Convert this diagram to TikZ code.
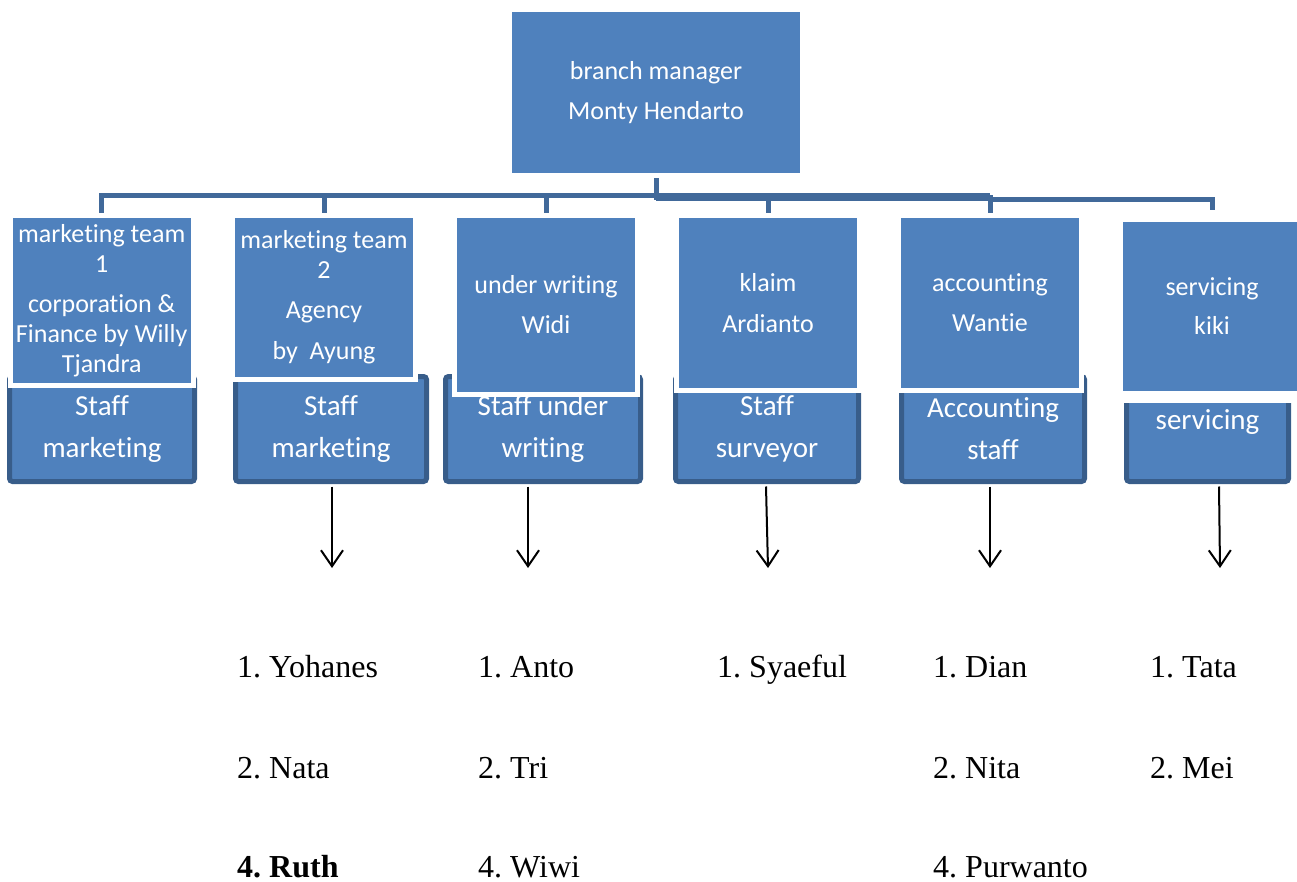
\documentclass[tikz,border=0pt]{standalone}
\usepackage{fontspec}
\setmainfont{Liberation Serif}
\newfontfamily\boxfont[Ligatures=NoCommon]{Carlito}
\usetikzlibrary{arrows.meta,backgrounds}
\definecolor{boxblue}{HTML}{4F81BD}
\definecolor{boxedge}{HTML}{385D8A}
\definecolor{connblue}{HTML}{41699A}
\frenchspacing
\begin{document}
\begin{tikzpicture}[x=1pt,y=-1pt,
 topbox/.style={draw=white, line width=5pt, fill=boxblue, text=white, inner sep=0pt, align=center, font=\boxfont\fontsize{26}{30}\selectfont, minimum width=183pt},
 staffbox/.style={draw=boxedge, line width=5pt, fill=boxblue, rounded corners=3pt, text=white, inner sep=0pt, align=center, font=\boxfont\fontsize{29}{42}\selectfont, minimum height=105pt},
 conn/.style={draw=connblue, line width=5pt},
 arr/.style={draw=black, line width=2pt, -{Straight Barb[length=16pt,width=22pt]}},
 namelbl/.style={anchor=base west, inner sep=0pt, font=\fontsize{32}{38}\selectfont}
]
\useasboundingbox (0,0) rectangle (1297,882);

% staff boxes (behind the team boxes)
\node[staffbox, minimum width=185pt] (S1) at (102,429) {Staff\\marketing};
\node[staffbox, minimum width=191pt] (S2) at (331,429) {Staff\\marketing};
\node[staffbox, minimum width=195pt] (S3) at (543,429) {Staff under\\writing};
\node[staffbox, minimum width=183pt] (S4) at (767,429) {Staff\\surveyor};
\node[staffbox, minimum width=183pt] (S5) at (993,429) {Accounting\\staff};
\node[staffbox, minimum width=162pt, minimum height=86pt, text height=20pt, text depth=39pt] (S6) at (1207.5,438.5) {servicing};

% manager and team boxes
\node[topbox, minimum width=293pt, minimum height=166pt] (mgr) at (656,92.5) {branch manager\\[10pt]Monty Hendarto};
\node[topbox, minimum height=170pt] (T1) at (101.7,300.5) {marketing team\\1\\[10pt]corporation \&\\Finance by Willy\\Tjandra};
\node[topbox, minimum height=164pt] (T2) at (324,297.5) {marketing team\\2\\[10pt]Agency\\[11pt]by~~Ayung};
\node[topbox, minimum height=179pt] (T3) at (546,305) {under writing\\[10pt]Widi};
\node[topbox, minimum height=175pt] (T4) at (768,303) {klaim\\[11pt]Ardianto};
\node[topbox, minimum height=175pt] (T5) at (990,303) {accounting\\[10pt]Wantie};
\node[topbox, line width=12pt, minimum width=190pt, minimum height=181pt] (T6) at (1212,306.5) {servicing\\[9pt]kiki};

% connectors
\coordinate (busL) at (656,196);
\coordinate (busR) at (656,197.5);
\coordinate (busS) at (990,199.5);
\begin{scope}[on background layer]
\draw[conn] (mgr.south) -- (busL) -| (T1.north);
\draw[conn] (busL) -| (T2.north);
\draw[conn] (busL) -| (T3.north);
\draw[conn] (mgr.south) -- (busR) -| (T4.north);
\draw[conn] (busR) -| (T5.north);
\draw[conn, line width=8pt] (busR) -- (busR -| T5.north);
\draw[conn] (busS) -| (T6.north);
\end{scope}

% arrows
\coordinate (a1) at (332,568);
\coordinate (a2) at (528,568);
\coordinate (a3) at (768,568);
\coordinate (a4) at (990,568);
\coordinate (a5) at (1220,568);
\draw[arr] ([xshift=1pt,yshift=-2.5pt]S2.south) -- (a1);
\draw[arr] ([xshift=-15pt,yshift=-2.5pt]S3.south) -- (a2);
\draw[arr] ([xshift=-1pt,yshift=-2.5pt]S4.south) -- (a3);
\draw[arr] ([xshift=-3pt,yshift=-2.5pt]S5.south) -- (a4);
\draw[arr] ([xshift=11.5pt,yshift=-2.5pt]S6.south) -- (a5);

% names
\node[namelbl] (n11) at (237,677) {1. Yohanes};
\node[namelbl] (n12) at (237,778) {2. Nata};
\node[namelbl, font=\fontsize{32}{38}\selectfont\bfseries] (n13) at (237,877) {4. Ruth};
\node[namelbl] (n21) at (478,677) {1. Anto};
\node[namelbl] (n22) at (478,778) {2. Tri};
\node[namelbl] (n23) at (478,877) {4. Wiwi};
\node[namelbl] (n31) at (717,677) {1. Syaeful};
\node[namelbl] (n41) at (933,677) {1. Dian};
\node[namelbl] (n42) at (933,778) {2. Nita};
\node[namelbl] (n43) at (933,877) {4. Purwanto};
\node[namelbl] (n51) at (1150,677) {1. Tata};
\node[namelbl] (n52) at (1150,778) {2. Mei};
\end{tikzpicture}
\end{document}
